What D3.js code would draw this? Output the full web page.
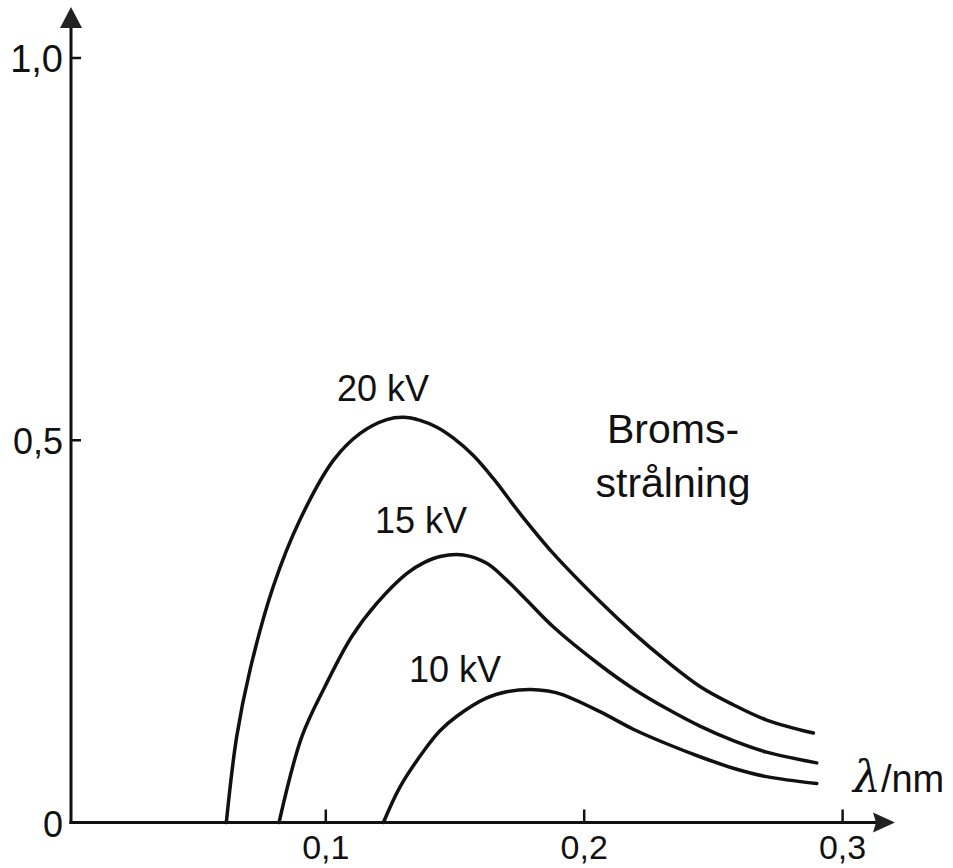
<!DOCTYPE html>
<html>
<head>
<meta charset="utf-8">
<script src="https://cdn.jsdelivr.net/npm/d3@7"></script>
<style>
  body { margin: 0; background: #fff; }
  text { font-family: "Liberation Sans", Arial, sans-serif; fill: #111; }
</style>
</head>
<body>
<div id="chart"></div>
<script>
// wavelength (nm) and relative intensity
const lambda20 = [0.0615, 0.0655, 0.0707, 0.0797, 0.0900, 0.1030, 0.1133, 0.1236, 0.1300, 0.1365, 0.1430, 0.1493, 0.1571, 0.1648, 0.1752, 0.1880, 0.2061, 0.2190, 0.2319, 0.2448, 0.2577, 0.2706, 0.2887];
const intens20 = [0, 0.112, 0.200, 0.309, 0.396, 0.474, 0.509, 0.527, 0.530, 0.526, 0.517, 0.503, 0.480, 0.450, 0.404, 0.352, 0.289, 0.248, 0.211, 0.178, 0.154, 0.134, 0.117];

const lambda15 = [0.0819, 0.0907, 0.0997, 0.1100, 0.1198, 0.1314, 0.1380, 0.1442, 0.1532, 0.1623, 0.1700, 0.1777, 0.1880, 0.2061, 0.2190, 0.2319, 0.2448, 0.2577, 0.2706, 0.2900];
const intens15 = [0, 0.112, 0.178, 0.243, 0.287, 0.326, 0.340, 0.348, 0.350, 0.339, 0.317, 0.291, 0.256, 0.206, 0.175, 0.149, 0.126, 0.107, 0.092, 0.078];

const lambda10 = [0.1223, 0.1288, 0.1391, 0.1442, 0.1507, 0.1623, 0.1700, 0.1790, 0.1860, 0.1919, 0.2061, 0.2190, 0.2319, 0.2448, 0.2577, 0.2706, 0.2900];
const intens10 = [0, 0.047, 0.099, 0.120, 0.139, 0.163, 0.171, 0.174, 0.172, 0.167, 0.145, 0.122, 0.103, 0.086, 0.071, 0.060, 0.051];

const curveLabels = ["20 kV", "15 kV", "10 kV"];
const xTicks = [0.1, 0.2, 0.3];
const xTickLabels = ["0,1", "0,2", "0,3"];
const yTicks = [0, 0.5, 1.0];
const yTickLabels = ["0", "0,5", "1,0"];

const WIDTH = 953;
const HEIGHT = 868;
const AXIS_X = 71;

const x = d3.scaleLinear().domain([0, 0.3]).range([67.4, 842.6]);
const y = d3.scaleLinear().domain([0, 1]).range([822.5, 58]);

const svg = d3
  .select("#chart")
  .append("svg")
  .attr("width", WIDTH)
  .attr("height", HEIGHT);

// axes
svg
  .append("line")
  .attr("x1", AXIS_X)
  .attr("x2", AXIS_X)
  .attr("y1", y(0) + 1.5)
  .attr("y2", 24)
  .style("stroke", "#111")
  .style("stroke-width", 3);
svg
  .append("path")
  .attr("d", `M${AXIS_X},7 L${AXIS_X - 11},28 L${AXIS_X + 11},28 Z`)
  .style("fill", "#222");

svg
  .append("line")
  .attr("x1", AXIS_X - 1.5)
  .attr("x2", 880)
  .attr("y1", y(0))
  .attr("y2", y(0))
  .style("stroke", "#111")
  .style("stroke-width", 3);
svg
  .append("path")
  .attr("d", `M895,${y(0)} L873,${y(0) - 10} L876,${y(0)} L873,${y(0) + 10} Z`)
  .style("fill", "#222");

// ticks
svg
  .selectAll("line.xtick")
  .data(xTicks)
  .enter()
  .append("line")
  .attr("class", "xtick")
  .attr("x1", (d) => x(d))
  .attr("x2", (d) => x(d))
  .attr("y1", y(0))
  .attr("y2", y(0) - 13)
  .style("stroke", "#111")
  .style("stroke-width", 2.5);

svg
  .selectAll("text.xlabel")
  .data(xTicks)
  .enter()
  .append("text")
  .attr("class", "xlabel")
  .attr("x", (d) => x(d))
  .attr("y", 859)
  .attr("text-anchor", "middle")
  .style("font-size", "34px")
  .text((d, i) => xTickLabels[i]);

svg
  .selectAll("line.ytick")
  .data(yTicks.filter((d) => d > 0))
  .enter()
  .append("line")
  .attr("class", "ytick")
  .attr("x1", AXIS_X)
  .attr("x2", AXIS_X + 10)
  .attr("y1", (d) => y(d))
  .attr("y2", (d) => y(d))
  .style("stroke", "#111")
  .style("stroke-width", 2.5);

svg
  .selectAll("text.ylabel")
  .data(yTicks)
  .enter()
  .append("text")
  .attr("class", "ylabel")
  .attr("x", 63)
  .attr("y", (d) => y(d) + 14)
  .attr("text-anchor", "end")
  .style("font-size", (d) => (d === 1 ? "38px" : "36px"))
  .text((d, i) => yTickLabels[i]);

// curves
const line = d3
  .line()
  .x((d) => x(d[0]))
  .y((d) => y(d[1]))
  .curve(d3.curveCatmullRom.alpha(0.5));

const series = [
  d3.zip(lambda20, intens20),
  d3.zip(lambda15, intens15),
  d3.zip(lambda10, intens10),
];

svg
  .selectAll("path.curve")
  .data(series)
  .enter()
  .append("path")
  .attr("class", "curve")
  .attr("d", line)
  .style("fill", "none")
  .style("stroke", "#111")
  .style("stroke-width", 3.5)
  .style("stroke-linecap", "round");

// curve labels placed above each peak
const labelPos = [
  [383, 401],
  [421, 533],
  [455, 682],
];
svg
  .selectAll("text.curvelabel")
  .data(curveLabels)
  .enter()
  .append("text")
  .attr("class", "curvelabel")
  .attr("x", (d, i) => labelPos[i][0])
  .attr("y", (d, i) => labelPos[i][1])
  .attr("text-anchor", "middle")
  .style("font-size", "36px")
  .text((d) => d);

const title = svg
  .append("text")
  .attr("x", 673)
  .attr("y", 443)
  .attr("text-anchor", "middle")
  .style("font-size", "41px");
title.append("tspan").attr("x", 673).text("Broms-");
title.append("tspan").attr("x", 673).attr("dy", 54).text("strålning");

const axisTitle = svg
  .append("text")
  .attr("x", 853)
  .attr("y", 792)
  .style("font-size", "38px");
axisTitle
  .append("tspan")
  .style("font-style", "italic")
  .style("font-size", "44px")
  .style("font-family", "'DejaVu Serif', serif")
  .text("λ");
axisTitle.append("tspan").text("/nm");
</script>
</body>
</html>
